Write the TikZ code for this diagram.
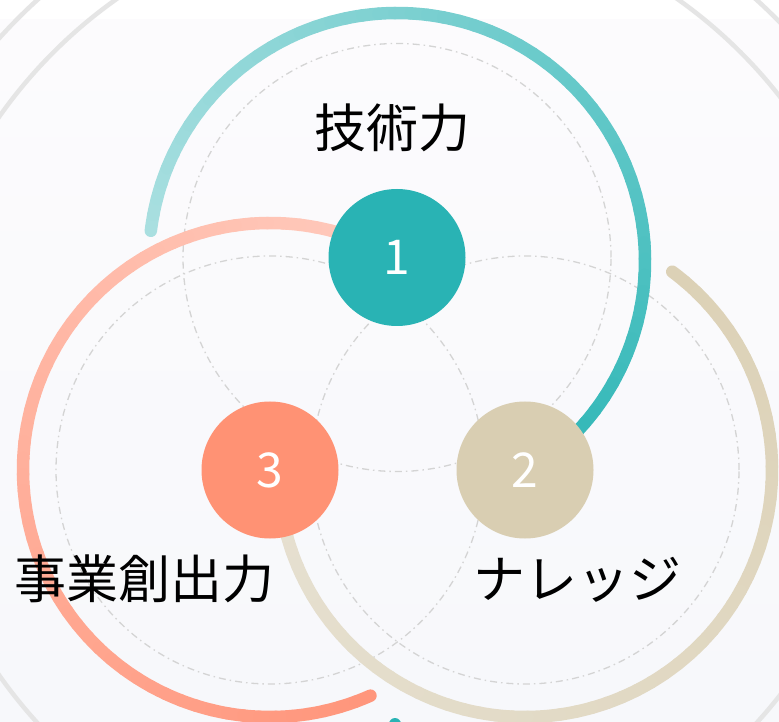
\documentclass[tikz,border=0pt]{standalone}
\usepackage{fontspec}
\usetikzlibrary{calc}
\newfontfamily\jpfont{Noto Sans CJK JP}
\definecolor{tealmain}{HTML}{29B3B4}
\definecolor{tealpale}{HTML}{A9DFE0}
\definecolor{tealdeep}{HTML}{33B8B8}
\definecolor{beigemain}{HTML}{D9CEB2}
\definecolor{beigedeep}{HTML}{DCD1B6}
\definecolor{beigepale}{HTML}{E6E0D0}
\definecolor{salmonmain}{HTML}{FF9274}
\definecolor{salmonpale}{HTML}{FFC9BB}
\definecolor{salmondeep}{HTML}{FF967C}
\definecolor{guide}{HTML}{D4D4D4}
\definecolor{halo}{HTML}{E5E5E5}
\definecolor{bgtop}{HTML}{FCFBFD}
\definecolor{bgbottom}{HTML}{F7F8FB}

\tikzset{
  badge/.style={circle, minimum size=137pt, inner sep=0pt, text=white, font=\jpfont\fontsize{48}{48}\selectfont},
  guidering/.style={guide, line width=1.3pt, dash pattern=on 7pt off 4pt on 1.5pt off 4pt},
  halocircle/.style={halo, line width=4.5pt},
  skilltext/.style={font=\jpfont\fontsize{52}{52}\selectfont, text=black, inner sep=0pt},
  ring/.style={line width=12.5pt, line cap=round}
}

\newcommand{\ringarc}[6]{%
  \foreach \k in {0,...,59}{
    \pgfmathsetmacro{\aA}{#3+(#4-#3)*\k/60}
    \pgfmathsetmacro{\aB}{#3+(#4-#3)*(\k+1)/60}
    \pgfmathsetmacro{\mixp}{100-100*\k/59}
    \draw[ring, color=#5!\mixp!#6] ($(#1)+(\aA:#2)$) arc[start angle=\aA, end angle=\aB, radius=#2];
  }}

\begin{document}
\begin{tikzpicture}[x=1pt, y=1pt]
  \useasboundingbox (0,0) rectangle (779,721);
  \clip (0,0) rectangle (779,721);
  \fill[white] (0,0) rectangle (779,721);
  \shade[top color=bgtop, bottom color=bgbottom] (0,0) rectangle (779,701);

  \coordinate (hub) at (397,325);
  \coordinate (c1) at (397,463.5);
  \coordinate (c2) at (525,251);
  \coordinate (c3) at (270,251);
  \coordinate (tealhub) at (397,460);

  \draw[halocircle] (hub) circle[radius=486];
  \draw[halocircle] (hub) circle[radius=535];

  \foreach \c in {c1,c2,c3}
    \draw[guidering] (\c) circle[radius=214];

  \ringarc{tealhub}{248}{173}{-52}{tealpale}{tealdeep}
  \ringarc{c3}{247}{68}{294}{salmonpale}{salmondeep}
  \ringarc{c2}{247}{53.4}{-172}{beigedeep}{beigepale}

  \fill[tealmain] (395,-3) circle[radius=6];

  \node[badge, fill=tealmain] (one) at (c1) {1};
  \node[badge, fill=beigemain] (two) at (c2) {2};
  \node[badge, fill=salmonmain] (three) at (c3) {3};

  \node[skilltext] (tech) at (392,593) {技術力};
  \node[skilltext] (biz) at (144,142) {事業創出力};
  \node[skilltext] (know) at (577,141) {ナレッジ};
\end{tikzpicture}
\end{document}
